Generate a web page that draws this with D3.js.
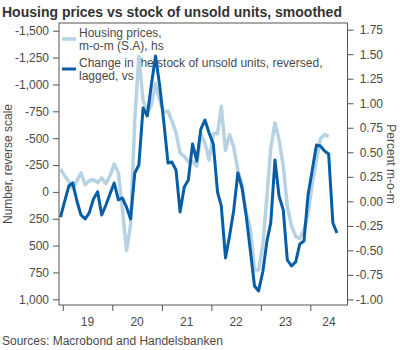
<html>
<head>
<meta charset="utf-8">
<title>Housing prices vs stock of unsold units</title>
<script src="https://d3js.org/d3.v7.min.js"></script>
<style>
  body { margin: 0; background: #fff; }
  text { font-family: "Liberation Sans", Arial, sans-serif; }
</style>
</head>
<body>
<div id="chart"></div>
<script>
// monthly data, first point Dec 2018
var startYear = 2018, startMonth = 11;
// housing prices m-o-m (S.A), percent, right scale
var priceMoM = [0.33, 0.26, 0.20, 0.13, 0.21, 0.29, 0.17, 0.21, 0.22, 0.19, 0.24, 0.18,
  0.26, 0.38, 0.29, -0.07, -0.50, -0.24, 0.83, 1.48, 1.03, 0.90, 0.98, 1.20,
  1.03, 0.91, 0.92, 0.82, 0.70, 0.49, 0.46, 0.40, 0.41, 0.36, 0.69, 0.59,
  0.42, 0.69, 0.69, 0.97, 0.52, 0.68, 0.55, 0.32, 0.17, -0.11, -0.27, -0.70,
  -0.70, -0.45, 0.06, 0.54, 0.80, 0.63, 0.36, -0.05, -0.25, -0.36, -0.38, -0.29,
  -0.13, 0.18, 0.42, 0.64, 0.68, 0.66];
// change in stock of unsold units, number, left scale (reversed)
var unsoldChange = [234, 85, -55, -83, 85, 215, 252, 196, 66, 0, 215, 122,
  20, -83, 75, 57, 141, 252, -176, -250, -781, -706, -995, -1265,
  -995, -651, -269, -278, -204, 187, -46, -111, -446, -288, -585, -669,
  -548, -446, 1, 131, 615, 410, 168, -176, -36, 224, 541, 876,
  922, 746, 457, 289, -297, 38, 168, 634, 690, 652, 485, 457,
  29, -204, -437, -427, -381, -353, 289, 383];

var leftTicks = [-1500, -1250, -1000, -750, -500, -250, 0, 250, 500, 750, 1000];
var rightTicks = [1.75, 1.5, 1.25, 1, 0.75, 0.5, 0.25, 0, -0.25, -0.5, -0.75, -1];
var years = [2019, 2020, 2021, 2022, 2023, 2024];

var lightBlue = "#b7d3e3", darkBlue = "#075ea7", textCol = "#4a4a4a", axisCol = "#555";

var W = 400, H = 350;
var pLeft = 59, pRight = 347.5, pTop = 23, pBottom = 305;

var fmt = d3.formatLocale({ decimal: ".", thousands: ",", grouping: [3], currency: ["", ""], minus: "-" });

function monthDate(i) { return new Date(startYear, startMonth + i, 15); }

var x = d3.scaleTime()
  .domain([new Date(2018, 11, 1), new Date(2024, 9, 1)])
  .range([58.6, pRight]);
var yL = d3.scaleLinear().domain([-1572, 1053]).range([pTop, pBottom]);
var yR = d3.scaleLinear().domain([1.818, -1.057]).range([pTop, pBottom]);

var svg = d3.select("#chart").append("svg")
  .attr("width", W).attr("height", H);

svg.append("text")
  .attr("x", 2).attr("y", 17)
  .attr("font-size", "14px").attr("font-weight", "bold")
  .attr("fill", "#333")
  .text("Housing prices vs stock of unsold units, smoothed");

// left axis
var gL = svg.append("g").attr("transform", "translate(" + pLeft + ",0)")
  .call(d3.axisLeft(yL).tickValues(leftTicks).tickSize(6).tickPadding(4)
    .tickFormat(fmt.format(",")));
// right axis
var gR = svg.append("g").attr("transform", "translate(" + pRight + ",0)")
  .call(d3.axisRight(yR).tickValues(rightTicks).tickSize(6)
    .tickFormat(fmt.format(".2f")));
gR.selectAll("text").attr("x", 35.5).attr("text-anchor", "end");

// x axis: ticks at year starts, labels centred in each year
var gX = svg.append("g").attr("transform", "translate(0," + pBottom + ")")
  .call(d3.axisBottom(x).tickValues(years.map(function(y) { return new Date(y, 0, 1); }))
    .tickSize(6).tickFormat(""));
years.forEach(function(y) {
  var a = Math.max(x(new Date(y, 0, 1)), 58.6);
  var b = Math.min(x(new Date(y + 1, 0, 1)), pRight);
  svg.append("text")
    .attr("x", (a + b) / 2).attr("y", pBottom + 21)
    .attr("text-anchor", "middle").attr("font-size", "12px").attr("fill", textCol)
    .text(String(y).slice(2));
});

[gL, gR, gX].forEach(function(g) {
  g.select(".domain").remove();
  g.selectAll("line").attr("stroke", axisCol);
  g.selectAll("text").attr("font-size", "12px").attr("fill", textCol)
    .attr("font-family", "Liberation Sans, Arial, sans-serif");
});

// frame
svg.append("rect")
  .attr("x", pLeft).attr("y", pTop)
  .attr("width", pRight - pLeft).attr("height", pBottom - pTop)
  .attr("fill", "none").attr("stroke", axisCol);

// axis titles
svg.append("text")
  .attr("transform", "translate(12," + ((pTop + pBottom) / 2) + ") rotate(-90)")
  .attr("text-anchor", "middle").attr("font-size", "12px").attr("fill", textCol)
  .text("Number, reverse scale");
svg.append("text")
  .attr("transform", "translate(387," + ((pTop + pBottom) / 2) + ") rotate(90)")
  .attr("text-anchor", "middle").attr("font-size", "12px").attr("fill", textCol)
  .text("Percent m-o-m");

// legend
var legend = [
  { col: lightBlue, w: 3.5, lines: ["Housing prices,", "m-o-m (S.A), hs"], y: 37 },
  { col: darkBlue, w: 3, lines: ["Change in the stock of unsold units, reversed,", "lagged, vs"], y: 67 }
];
legend.forEach(function(l) {
  svg.append("line")
    .attr("x1", 62).attr("x2", 76).attr("y1", l.y + 2).attr("y2", l.y + 2)
    .attr("stroke", l.col).attr("stroke-width", l.w);
  l.lines.forEach(function(t, i) {
    svg.append("text")
      .attr("x", 79).attr("y", l.y + i * 13)
      .attr("font-size", "12px").attr("fill", textCol)
      .text(t);
  });
});

// series
var lineR = d3.line()
  .x(function(d, i) { return x(monthDate(i)); })
  .y(function(d) { return yR(d); });
var lineL = d3.line()
  .x(function(d, i) { return x(monthDate(i)); })
  .y(function(d) { return yL(d); });

svg.append("path").datum(priceMoM)
  .attr("d", lineR).attr("fill", "none")
  .attr("stroke", lightBlue).attr("stroke-width", 3.5).attr("stroke-linejoin", "round");
svg.append("path").datum(unsoldChange)
  .attr("d", lineL).attr("fill", "none")
  .attr("stroke", darkBlue).attr("stroke-width", 3).attr("stroke-linejoin", "round");

svg.append("text")
  .attr("x", 2).attr("y", 345)
  .attr("font-size", "12px").attr("fill", textCol)
  .text("Sources: Macrobond and Handelsbanken");
</script>
</body>
</html>
